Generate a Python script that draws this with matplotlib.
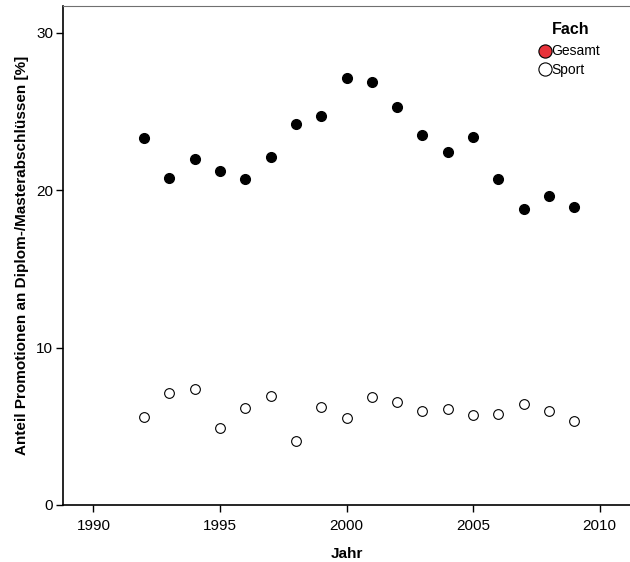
import matplotlib.pyplot as plt
from matplotlib.lines import Line2D

plt.rcParams['font.family'] = ['Liberation Sans', 'DejaVu Sans']

# Jahre 1992-2009
years = [1992, 1993, 1994, 1995, 1996, 1997, 1998, 1999, 2000,
         2001, 2002, 2003, 2004, 2005, 2006, 2007, 2008, 2009]

# Anteil Promotionen an Diplom-/Masterabschluessen [%]
gesamt = [23.3, 20.8, 22.0, 21.2, 20.7, 22.1, 24.2, 24.7, 27.1,
          26.9, 25.3, 23.5, 22.4, 23.4, 20.7, 18.8, 19.6, 18.9]
sport = [5.6, 7.1, 7.4, 4.9, 6.15, 6.9, 4.05, 6.25, 5.55,
         6.85, 6.55, 6.0, 6.1, 5.7, 5.75, 6.4, 6.0, 5.35]

x_ticks = [1990, 1995, 2000, 2005, 2010]
y_ticks = [0, 10, 20, 30]

fig = plt.figure(figsize=(6.3, 5.62), dpi=100)
ax = fig.add_axes([63 / 630, 1 - 505 / 562, 1 - 63 / 630, (505 - 6) / 562])

ax.plot(years, gesamt, 'o', color='black', markersize=7, linestyle='none')
ax.plot(years, sport, 'o', markerfacecolor='white', markeredgecolor='black',
        markeredgewidth=0.8, markersize=7, linestyle='none')

ax.set_xlim(1988.8, 2011.2)
ax.set_ylim(0, 31.7)
ax.set_xticks(x_ticks)
ax.set_yticks(y_ticks)
ax.tick_params(direction='out', length=5, width=1, labelsize=11, colors='black')
ax.tick_params(axis='x', pad=5)
ax.tick_params(axis='y', pad=2)

ax.spines['right'].set_visible(False)
ax.spines['top'].set_color('#707070')
ax.spines['left'].set_linewidth(1.2)
ax.spines['bottom'].set_linewidth(1.2)

ax.set_xlabel('Jahr', fontsize=11, fontweight='bold', labelpad=10)
ax.set_ylabel('Anteil Promotionen an Diplom-/Masterabschlüssen [%]',
              fontsize=11, fontweight='bold', labelpad=5)

handles = [
    Line2D([], [], marker='o', linestyle='none', markersize=9.5,
           markerfacecolor='#e8323a', markeredgecolor='black', markeredgewidth=0.8),
    Line2D([], [], marker='o', linestyle='none', markersize=9.5,
           markerfacecolor='white', markeredgecolor='black', markeredgewidth=0.8),
]
leg = ax.legend(handles, ['Gesamt', 'Sport'], title='Fach', frameon=False,
                loc='upper left', bbox_to_anchor=(0.842, 0.967),
                fontsize=10, handlelength=0.7, handletextpad=0.1,
                labelspacing=0.3, borderaxespad=0, borderpad=0)
leg.get_title().set_fontweight('bold')
leg.get_title().set_fontsize(11.5)
leg._legend_box.sep = 5

fig.savefig('out.png', dpi=100)
